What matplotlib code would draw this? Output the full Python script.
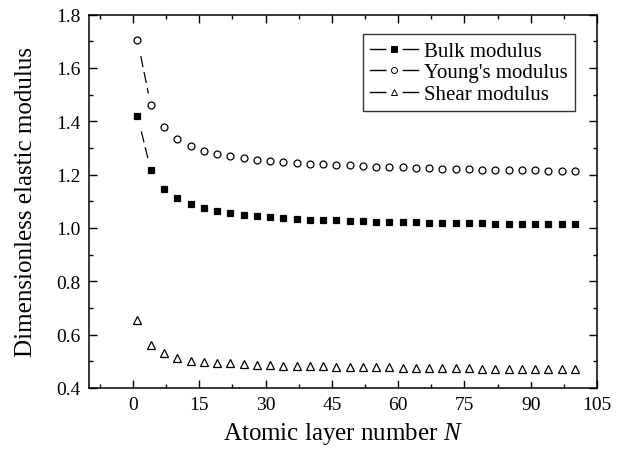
import matplotlib
matplotlib.use('Agg')
import matplotlib.pyplot as plt
from matplotlib.lines import Line2D
from matplotlib.legend_handler import HandlerTuple
from matplotlib.ticker import MultipleLocator

plt.rcParams['font.family'] = 'Liberation Serif'
plt.rcParams['mathtext.fontset'] = 'custom'
plt.rcParams['mathtext.rm'] = 'Liberation Serif'
plt.rcParams['mathtext.it'] = 'Liberation Serif:italic'

# atomic layer number
layers = [1, 4, 7, 10, 13, 16, 19, 22, 25, 28, 31, 34, 37, 40, 43, 46, 49,
          52, 55, 58, 61, 64, 67, 70, 73, 76, 79, 82, 85, 88, 91, 94, 97, 100]

bulk = [1.421, 1.217, 1.147, 1.111, 1.090, 1.074, 1.065, 1.056, 1.050, 1.043,
        1.040, 1.036, 1.034, 1.031, 1.030, 1.028, 1.026, 1.025, 1.024, 1.023,
        1.021, 1.021, 1.020, 1.019, 1.019, 1.018, 1.018, 1.016, 1.016, 1.015,
        1.015, 1.014, 1.014, 1.014]

young = [1.704, 1.461, 1.377, 1.335, 1.307, 1.290, 1.277, 1.269, 1.261, 1.255,
         1.250, 1.246, 1.244, 1.241, 1.239, 1.236, 1.234, 1.232, 1.230, 1.229,
         1.227, 1.225, 1.224, 1.222, 1.221, 1.220, 1.219, 1.219, 1.217, 1.216,
         1.216, 1.215, 1.215, 1.215]

shear = [0.653, 0.563, 0.531, 0.513, 0.503, 0.499, 0.495, 0.492, 0.489, 0.487,
         0.485, 0.484, 0.483, 0.482, 0.481, 0.480, 0.479, 0.478, 0.478, 0.477,
         0.476, 0.476, 0.475, 0.475, 0.474, 0.474, 0.473, 0.473, 0.472, 0.472,
         0.471, 0.471, 0.471, 0.470]

labels = ['Bulk modulus', "Young's modulus", 'Shear modulus']
markers = ['s', 'o', '^']
faces = ['black', 'white', 'white']
sizes = [4.6, 5.0, 6.0]

fig = plt.figure(figsize=(6.35, 4.52), dpi=100)
ax = fig.add_axes([0.140, 0.1394, 0.800, 0.8263])

handles = []
for series, mk, fc, ms in zip([bulk, young, shear], markers, faces, sizes):
    ax.plot(layers, series, color='black', lw=0.9, ls=(0, (9, 4)), zorder=1)
    ax.plot(layers, series, ls='none', marker='o', ms=ms + 13, mfc='white',
            mec='none', zorder=2)
    ax.plot(layers, series, ls='none', marker=mk, ms=ms, mfc=fc,
            mec='black', mew=0.9, zorder=3)
    handles.append((
        Line2D([], [], color='black', lw=1.0),
        Line2D([], [], ls='none', marker='s', ms=12, mfc='white', mec='none'),
        Line2D([], [], ls='none', marker=mk, ms=4.3, mfc=fc, mec='black',
               mew=0.7),
    ))

ax.set_xlim(-10, 105)
ax.set_ylim(0.4, 1.8)
ax.xaxis.set_major_locator(MultipleLocator(15))
ax.xaxis.set_minor_locator(MultipleLocator(7.5))
ax.yaxis.set_major_locator(MultipleLocator(0.2))
ax.yaxis.set_minor_locator(MultipleLocator(0.1))
ax.yaxis.set_major_formatter(matplotlib.ticker.FormatStrFormatter('%.1f'))

ax.tick_params(which='both', direction='in', top=True, right=True,
               labelsize=14, width=1.0)
ax.tick_params(which='major', length=6, pad=6)
ax.tick_params(which='minor', length=3)
for sp in ax.spines.values():
    sp.set_linewidth(1.1)

ax.set_xlabel('Atomic layer number $\\it{N}$', fontsize=18, labelpad=5)
ax.set_ylabel('Dimensionless elastic modulus', fontsize=18, labelpad=14)

leg = ax.legend(handles, labels, handler_map={tuple: HandlerTuple(ndivide=1)},
                loc='upper right', bbox_to_anchor=(0.957, 0.948),
                borderaxespad=0, fontsize=15, frameon=True, fancybox=False,
                edgecolor='black', handlelength=2.3, handletextpad=0.3,
                labelspacing=0.1, borderpad=0.35)
leg.get_frame().set_linewidth(1.0)

plt.savefig('out.png', dpi=100)
